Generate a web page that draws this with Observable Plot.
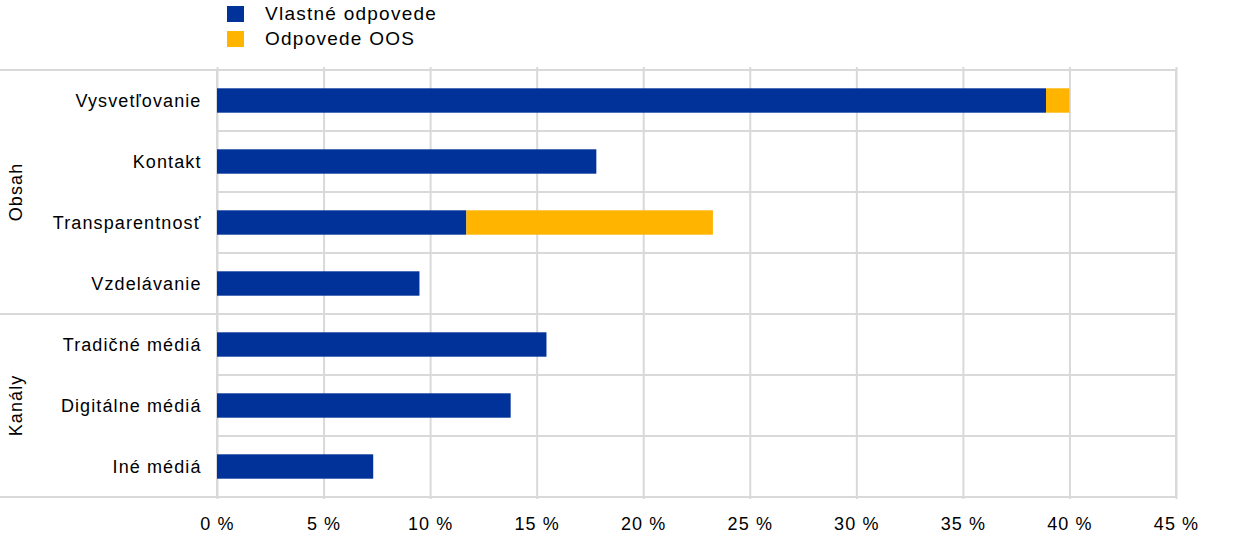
<!DOCTYPE html>
<html>
<head>
<meta charset="utf-8">
<script src="https://cdn.jsdelivr.net/npm/d3@7"></script>
<script src="https://cdn.jsdelivr.net/npm/@observablehq/plot@0.6"></script>
<style>
  body { margin: 0; background: #fff; font-family: "Liberation Sans", Arial, sans-serif; }
  #legend { height: 60px; position: relative; font-size: 19px; letter-spacing: 1.25px; color: #000; }
  .li { position: absolute; left: 227px; display: flex; align-items: center; }
  .sw { width: 17px; height: 16px; margin-right: 21px; }
  svg { display: block; }
  #chart svg text { letter-spacing: 1.1px; }
</style>
</head>
<body>
<div id="legend"></div>
<div id="chart"></div>
<script>
const categories = ["Vysvetľovanie", "Kontakt", "Transparentnosť", "Vzdelávanie", "Tradičné médiá", "Digitálne médiá", "Iné médiá"];
const groupOf = ["Obsah", "Obsah", "Obsah", "Obsah", "Kanály", "Kanály", "Kanály"];
const groups = ["Obsah", "Kanály"];
const ownValues = [38.9, 17.8, 11.7, 9.5, 15.46, 13.78, 7.33];
const oosValues = [1.1, 0, 11.57, 0, 0, 0, 0];
const seriesNames = ["Vlastné odpovede", "Odpovede OOS"];
const seriesColors = ["#003299", "#FFB400"];
const xTicks = [0, 5, 10, 15, 20, 25, 30, 35, 40, 45];

const data = [];
categories.forEach((c, i) => {
  data.push({category: c, series: seriesNames[0], value: ownValues[i]});
  data.push({category: c, series: seriesNames[1], value: oosValues[i]});
});

// legend
const legend = document.getElementById("legend");
seriesNames.forEach((s, i) => {
  const d = document.createElement("div");
  d.className = "li";
  d.style.top = (3 + i * 25) + "px";
  d.innerHTML = `<div class="sw" style="background:${seriesColors[i]}"></div><span>${s}</span>`;
  legend.appendChild(d);
});

const gridColor = "#d9d9d9";
const chart = Plot.plot({
  width: 1240,
  height: 484,
  marginLeft: 217,
  marginRight: 64,
  marginTop: 7,
  marginBottom: 45,
  style: {fontFamily: "Liberation Sans, Arial, sans-serif", fontSize: "18px", color: "#000", background: "#fff"},
  x: {domain: [0, 45], ticks: xTicks, tickFormat: d => d + " %", tickSize: 0, tickPadding: 18, label: null},
  y: {domain: categories, padding: 0, tickSize: 0, tickPadding: 17, label: null},
  color: {domain: seriesNames, range: seriesColors},
  marks: [
    Plot.barX(categories, {y: d => d, x1: 0, x2: 45, fill: "none", stroke: gridColor, strokeWidth: 2}),
    Plot.gridX(xTicks, {stroke: gridColor, strokeOpacity: 1, strokeWidth: 2}),
    Plot.barX(data, Plot.stackX({y: "category", x: "value", fill: "series", order: seriesNames, insetTop: 18.3, insetBottom: 18.3})),
    Plot.axisX({ticks: xTicks, tickFormat: d => d + " %", tickSize: 0, tickPadding: 18, fontSize: 18}),
    Plot.axisY({tickSize: 0, tickPadding: 16, fontSize: 18})
  ]
});
document.getElementById("chart").appendChild(chart);

// group separators and labels
const ys = chart.scale("y");
const xs = chart.scale("x");
const bw = ys.bandwidth;
const svg = d3.select(chart);
const xRight = xs.apply(45);
groups.forEach((g) => {
  const members = categories.filter((c, i) => groupOf[i] === g);
  const top = ys.apply(members[0]);
  const bottom = ys.apply(members[members.length - 1]) + bw;
  [top, bottom].forEach(yv => {
    svg.append("line").attr("x1", 0).attr("x2", xRight).attr("y1", yv).attr("y2", yv)
      .attr("stroke", gridColor).attr("stroke-width", 2);
  });
  const cy = (top + bottom) / 2;
  svg.append("text").attr("transform", `translate(22,${cy}) rotate(-90)`)
    .attr("text-anchor", "middle").attr("font-size", 18).attr("fill", "#000")
    .attr("font-family", "Liberation Sans, Arial, sans-serif").text(g);
});
</script>
</body>
</html>
